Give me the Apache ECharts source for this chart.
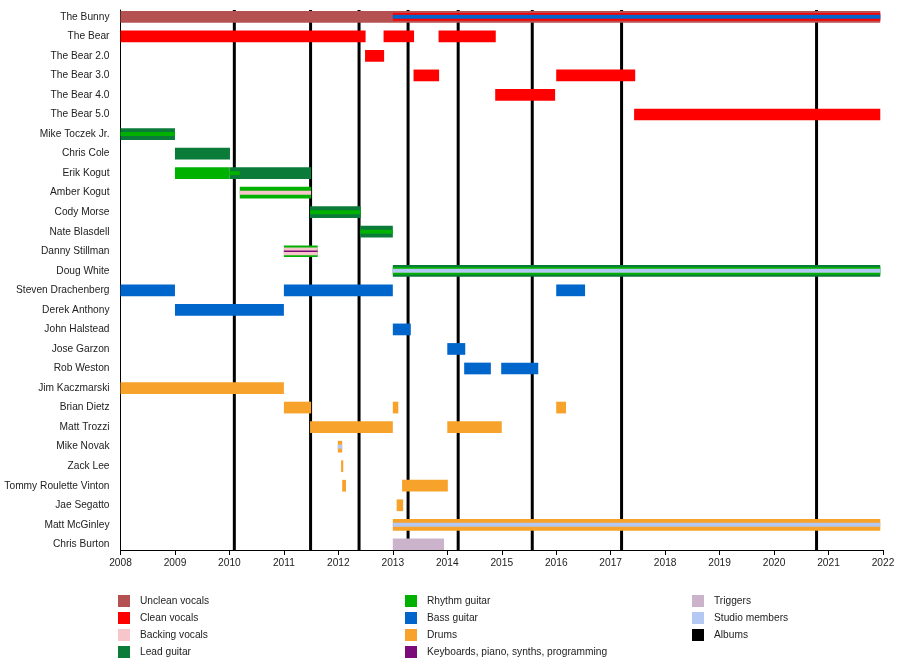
<!DOCTYPE html>
<html><head><meta charset="utf-8">
<script src="https://cdn.jsdelivr.net/npm/echarts@6/dist/echarts.min.js"></script>
<style>html,body{margin:0;padding:0;background:#fff}#c{width:900px;height:670px}</style>
</head><body><div id="c"></div>
<script>
const members = ["The Bunny","The Bear","The Bear 2.0","The Bear 3.0","The Bear 4.0","The Bear 5.0",
  "Mike Toczek Jr.","Chris Cole","Erik Kogut","Amber Kogut","Cody Morse","Nate Blasdell","Danny Stillman",
  "Doug White","Steven Drachenberg","Derek Anthony","John Halstead","Jose Garzon","Rob Weston",
  "Jim Kaczmarski","Brian Dietz","Matt Trozzi","Mike Novak","Zack Lee","Tommy Roulette Vinton",
  "Jae Segatto","Matt McGinley","Chris Burton"];

const roles = ["Unclean vocals","Clean vocals","Backing vocals","Lead guitar","Rhythm guitar","Bass guitar",
  "Drums","Keyboards, piano, synths, programming","Triggers","Studio members"];

// main role periods: [member, role, start, end]
const mainPeriods = [
  ["The Bunny","Unclean vocals",2008,2021.95],
  ["The Bear","Clean vocals",2008,2012.5],
  ["The Bear","Clean vocals",2012.83,2013.39],
  ["The Bear","Clean vocals",2013.84,2014.89],
  ["The Bear 2.0","Clean vocals",2012.49,2012.84],
  ["The Bear 3.0","Clean vocals",2013.38,2013.85],
  ["The Bear 3.0","Clean vocals",2016.0,2017.45],
  ["The Bear 4.0","Clean vocals",2014.88,2015.98],
  ["The Bear 5.0","Clean vocals",2017.43,2021.95],
  ["Mike Toczek Jr.","Lead guitar",2008,2009.0],
  ["Chris Cole","Lead guitar",2009.0,2010.01],
  ["Erik Kogut","Rhythm guitar",2009.0,2010.0],
  ["Erik Kogut","Lead guitar",2010.0,2011.5],
  ["Amber Kogut","Rhythm guitar",2010.19,2011.5],
  ["Cody Morse","Lead guitar",2011.48,2012.41],
  ["Nate Blasdell","Lead guitar",2012.4,2013.0],
  ["Danny Stillman","Rhythm guitar",2011.0,2011.62],
  ["Doug White","Lead guitar",2013.0,2021.95],
  ["Steven Drachenberg","Bass guitar",2008,2009.0],
  ["Steven Drachenberg","Bass guitar",2011.0,2013.0],
  ["Steven Drachenberg","Bass guitar",2016.0,2016.53],
  ["Derek Anthony","Bass guitar",2009.0,2011.0],
  ["John Halstead","Bass guitar",2013.0,2013.33],
  ["Jose Garzon","Bass guitar",2014.0,2014.33],
  ["Rob Weston","Bass guitar",2014.31,2014.8],
  ["Rob Weston","Bass guitar",2014.99,2015.67],
  ["Jim Kaczmarski","Drums",2008,2011.0],
  ["Brian Dietz","Drums",2011.0,2011.5],
  ["Brian Dietz","Drums",2013.0,2013.1],
  ["Brian Dietz","Drums",2016.0,2016.18],
  ["Matt Trozzi","Drums",2011.48,2013.0],
  ["Matt Trozzi","Drums",2014.0,2015.0],
  ["Mike Novak","Drums",2011.99,2012.07],
  ["Zack Lee","Drums",2012.05,2012.09],
  ["Tommy Roulette Vinton","Drums",2012.07,2012.14],
  ["Tommy Roulette Vinton","Drums",2013.17,2014.01],
  ["Jae Segatto","Drums",2013.07,2013.19],
  ["Matt McGinley","Drums",2013.0,2021.95],
  ["Chris Burton","Triggers",2013.0,2013.94]
];

// secondary roles (drawn as a stripe on the main bar)
const secondaryPeriods = [
  ["The Bunny","Clean vocals",2013.0,2021.95],
  ["Mike Toczek Jr.","Rhythm guitar",2008,2009.0],
  ["Erik Kogut","Rhythm guitar",2010.0,2010.19],
  ["Amber Kogut","Backing vocals",2010.19,2011.5],
  ["Cody Morse","Rhythm guitar",2011.48,2012.41],
  ["Nate Blasdell","Rhythm guitar",2012.4,2013.0],
  ["Danny Stillman","Backing vocals",2011.0,2011.62],
  ["Doug White","Rhythm guitar",2013.0,2021.95],
  ["Mike Novak","Studio members",2011.99,2012.07],
  ["Matt McGinley","Studio members",2013.0,2021.95]
];

// third roles (thin inner stripe)
const tertiaryPeriods = [
  ["The Bunny","Bass guitar",2013.0,2021.95],
  ["Danny Stillman","Keyboards, piano, synths, programming",2011.0,2011.62],
  ["Doug White","Studio members",2013.0,2021.95]
];

const albumDates = [2010.09,2011.49,2012.38,2013.28,2014.20,2015.56,2017.20,2020.78];

const roleColors = {
  "Unclean vocals":"#b65152",
  "Clean vocals":"#ff0000",
  "Backing vocals":"#f7c6ca",
  "Lead guitar":"#0b7b3a",
  "Rhythm guitar":"#00b100",
  "Bass guitar":"#0066cc",
  "Drums":"#f7a22b",
  "Keyboards, piano, synths, programming":"#7b0a7b",
  "Triggers":"#cbb3cb",
  "Studio members":"#b4c8f4",
  "Albums":"#000000"
};

const FONT = '"Liberation Sans", Arial, sans-serif';
const FS = 10.2;
const rowIndex = {}; members.forEach((m,i)=>rowIndex[m]=i);
const tertRows = new Set(tertiaryPeriods.map(p=>rowIndex[p[0]]));

function renderBar(params, api) {
  const s = api.value(0), e = api.value(1), row = api.value(2), level = api.value(3);
  const p0 = api.coord([s,row]), p1 = api.coord([e,row]);
  const band = api.size([0,1])[1];
  const full = band*0.6;
  let h = full;
  const name = params.seriesName;
  if (level === 1) h = tertRows.has(row) ? full*0.66 : full*0.34;
  if (level === 2) h = name.indexOf('Keyboards')===0 ? full*0.12 : full*0.33;
  return {type:'rect', shape:{x:p0[0], y:p0[1]-h/2, width:Math.max(p1[0]-p0[0],1.5), height:h},
    style:{fill:api.visual('color')}, z2: level+1};
}

const series = roles.map(role => {
  const data = [];
  [mainPeriods, secondaryPeriods, tertiaryPeriods].forEach((list,lvl)=>{
    list.forEach(p=>{ if (p[1]===role) data.push([p[2],p[3],rowIndex[p[0]],lvl]); });
  });
  return {type:'custom', name:role, renderItem:renderBar, itemStyle:{color:roleColors[role]},
    encode:{x:[0,1], y:2}, data:data, clip:true};
});
series.push({type:'custom', name:'Albums', itemStyle:{color:'#000'}, data:albumDates.map(d=>[d, 0]),
  encode:{x:0, y:1},
  renderItem:function(params, api){
    const x = api.coord([api.value(0), 0])[0];
    const cs = params.coordSys;
    return {type:'rect', shape:{x:x-1.5, y:cs.y, width:3, height:cs.height}, style:{fill:'#000'}, z2:0};
  }});

function legendCol(items, left) {
  return {orient:'vertical', left:left, top:595, padding:0, itemWidth:12, itemHeight:12, itemGap:5,
    icon:'rect', selectedMode:false, data:items,
    textStyle:{fontFamily:FONT, fontSize:FS, color:'#222', padding:[0,0,0,5]}};
}

const chart = echarts.init(document.getElementById('c'), null, {renderer:'canvas'});
chart.setOption({
  animation:false,
  backgroundColor:'#fff',
  tooltip:{show:false},
  grid:{left:120.5, right:17, top:10, bottom:120, outerBoundsMode:'none', containLabel:false},
  xAxis:{type:'value', min:2008, max:2022, interval:1,
    axisLine:{show:true, onZero:false, lineStyle:{color:'#000', width:1}},
    axisTick:{show:true, length:5, lineStyle:{color:'#000'}},
    axisLabel:{fontFamily:FONT, fontSize:FS, color:'#222', margin:8, formatter:v=>String(v)},
    splitLine:{show:false}},
  yAxis:{type:'value', inverse:true, min:-0.348, max:27.29,
    axisLine:{show:true, onZero:false, lineStyle:{color:'#000', width:1}},
    axisTick:{show:false},
    splitLine:{show:false},
    axisLabel:{fontFamily:FONT, fontSize:FS, color:'#222', margin:11,
      customValues:members.map((_,i)=>i), formatter:v=>members[v] || ''}},
  legend:[
    legendCol(roles.slice(0,4), 118),
    legendCol(roles.slice(4,8), 405),
    legendCol([roles[8], roles[9], 'Albums'], 692)
  ],
  series:series
});
</script></body></html>
